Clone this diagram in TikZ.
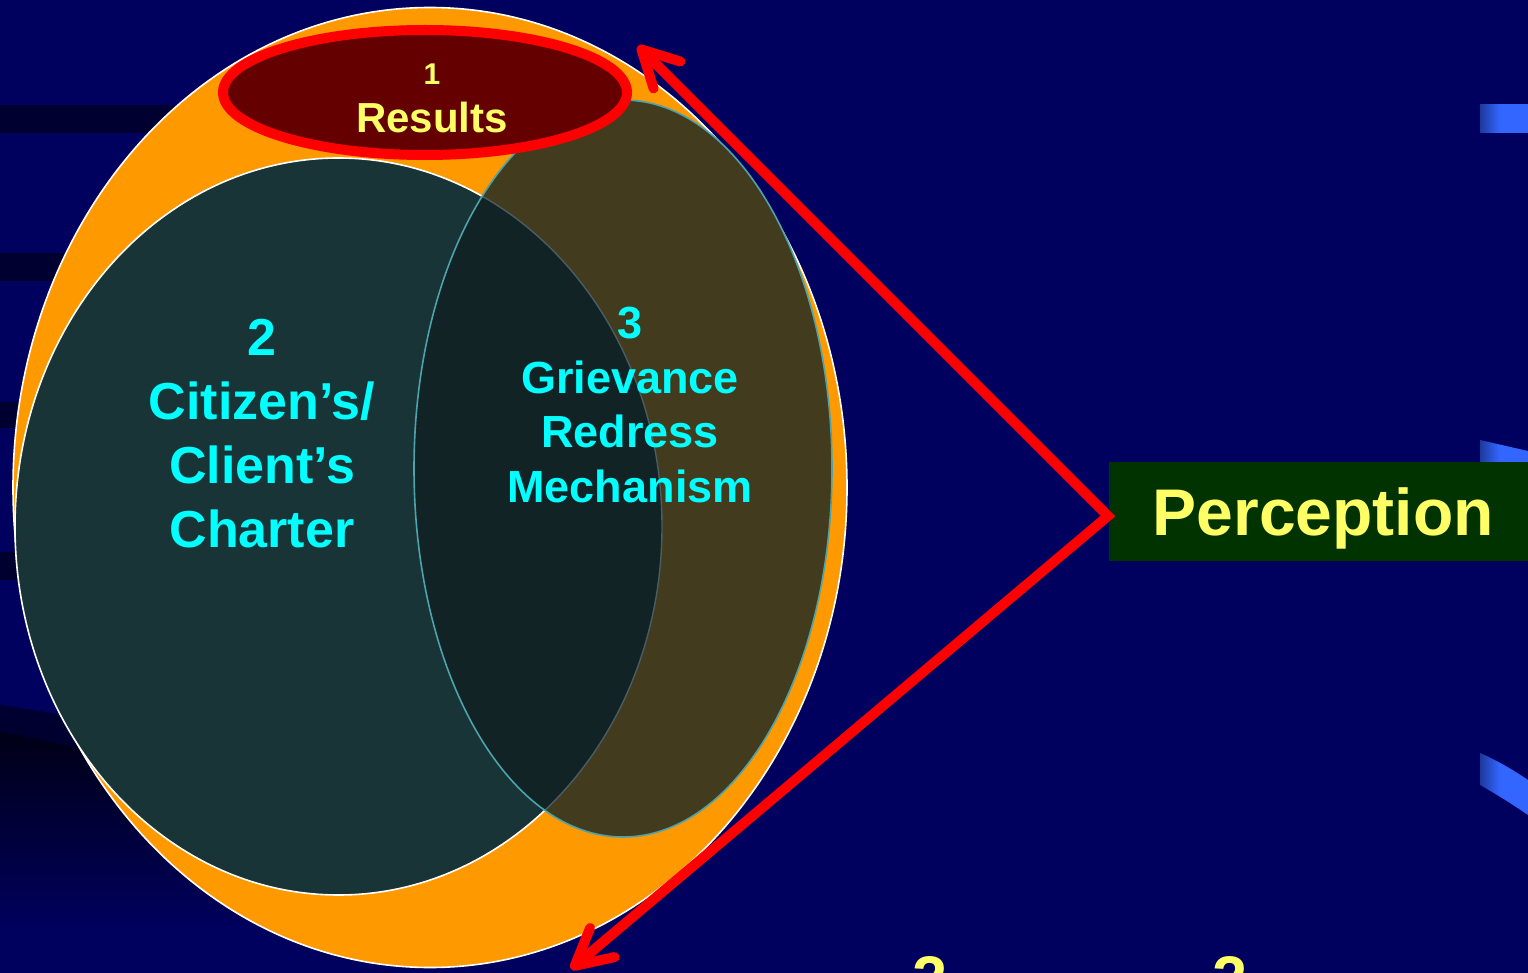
\documentclass[tikz,border=0pt]{standalone}
\usepackage{fontspec}
\setmainfont{Liberation Sans}
\usetikzlibrary{arrows.meta}
\definecolor{bg}{RGB}{0,0,94}
\definecolor{bgdark}{RGB}{0,0,48}
\definecolor{bgblack}{RGB}{0,0,22}
\definecolor{orangefill}{RGB}{255,153,0}
\definecolor{tealfill}{RGB}{25,52,54}
\definecolor{olivefill}{RGB}{67,59,30}
\definecolor{overlapfill}{RGB}{18,35,38}
\definecolor{tealline}{RGB}{74,163,173}
\definecolor{grayline}{RGB}{74,92,100}
\definecolor{resultsfill}{RGB}{100,0,0}
\definecolor{txtyellow}{RGB}{255,255,102}
\definecolor{txtcyan}{RGB}{0,255,255}
\definecolor{percfill}{RGB}{0,51,0}
\definecolor{streakblue}{RGB}{51,102,255}
\definecolor{streakdark}{RGB}{0,0,30}
\pgfdeclarehorizontalshading{streak}{100bp}{color(0bp)=(streakdark); color(45bp)=(streakblue); color(100bp)=(streakblue)}
\begin{document}
\begin{tikzpicture}[x=1pt,y=-1pt,
  band/.style={fill=bgdark},
  streakfill/.style={shading=streak},
  outerell/.style={fill=orangefill,draw=white,line width=1.6pt},
  leftell/.style={fill=tealfill,draw=white,line width=1.6pt},
  rightell/.style={fill=olivefill},
  resell/.style={fill=resultsfill,draw=red,line width=10pt},
  cyantext/.style={text=txtcyan,inner sep=0pt,align=center},
  yellowtext/.style={text=txtyellow,inner sep=0pt,align=center},
  percbox/.style={fill=percfill,text=txtyellow,inner sep=0pt,minimum width=419pt,minimum height=99pt,text height=47pt,text depth=0pt},
  redarrow/.style={draw=red,line width=10pt,line join=miter,
    {Straight Barb[round,length=36pt,width=38pt]}-{Straight Barb[round,length=36pt,width=38pt]}}
]
\useasboundingbox (0,0) rectangle (1528,973);
\begin{scope}
\clip (0,0) rectangle (1528,973);
% background
\fill[bg] (0,0) rectangle (1528,973);
% dark template bands on the left
\fill[band] (0,105) rectangle (250,133);
\fill[band] (0,253) rectangle (120,281);
\fill[band] (0,402) rectangle (60,428);
\fill[band] (0,552) rectangle (60,580);
\fill[band] (0,705) .. controls (80,716) and (200,740) .. (320,790) -- (320,830) .. controls (200,775) and (80,745) .. (0,732) -- cycle;
\shade[top color=bgblack,bottom color=bg] (0,732) .. controls (80,745) and (200,775) .. (320,830) -- (320,930) -- (0,930) -- cycle;
% blue streaks on the right
\shade[streakfill] (1480,105) rectangle (1528,133);
\shade[streakfill] (1480,440) -- (1528,451) -- (1528,463) -- (1480,463) -- cycle;
\shade[streakfill] (1480,753) .. controls (1496,760) and (1512,769) .. (1528,780) -- (1528,815) .. controls (1512,804) and (1496,794) .. (1480,785) -- cycle;
% big orange ellipse
\draw[outerell] (430,487.5) ellipse [x radius=417, y radius=480];
% left (charter) ellipse
\draw[leftell] (338.5,526.5) ellipse [x radius=323.5, y radius=368.5];
% right (grievance) ellipse
\fill[rightell] (623,468.5) ellipse [x radius=209, y radius=368.5];
% overlap
\begin{scope}
\clip (338.5,526.5) ellipse [x radius=323.5, y radius=368.5];
\fill[overlapfill] (623,468.5) ellipse [x radius=209, y radius=368.5];
\end{scope}
\begin{scope}
\clip (623,468.5) ellipse [x radius=209, y radius=368.5];
\draw[grayline,line width=1.4pt] (338.5,526.5) ellipse [x radius=323.5, y radius=368.5];
\end{scope}
\draw[tealline,line width=1.6pt] (623,468.5) ellipse [x radius=209, y radius=368.5];
% results ellipse
\draw[resell] (425,92.5) ellipse [x radius=202, y radius=62.5];
% texts
\node[yellowtext,anchor=north,font=\bfseries\fontsize{42}{48}\selectfont] (results) at (432,63.5) {{\fontsize{30}{36}\selectfont 1}\\Results};
\node[cyantext,anchor=north,font=\bfseries\fontsize{52}{64}\selectfont] (charter) at (262,319) {2\\Citizen’s/\\Client’s\\Charter};
\node[cyantext,anchor=north,font=\bfseries\fontsize{45}{54.5}\selectfont] (grm) at (630,307) {3\\Grievance\\Redress\\Mechanism};
% perception box
\node[percbox,anchor=north west,font=\bfseries\fontsize{66}{72}\selectfont] (perc) at (1109,462) {\hspace*{9pt}Perception};
% arrows
\coordinate (v) at (1108,516);
\coordinate (tipA) at (638,46);
\coordinate (tipB) at (571,969);
\draw[redarrow] (tipA) -- (v) -- (tipB);
% partial yellow digits at the bottom
\node[yellowtext,anchor=base,font=\bfseries\fontsize{63}{70}\selectfont] (d1) at (930,1000) {2};
\node[yellowtext,anchor=base,font=\bfseries\fontsize{63}{70}\selectfont] (d2) at (1230,1000) {2};
\end{scope}
\end{tikzpicture}
\end{document}
